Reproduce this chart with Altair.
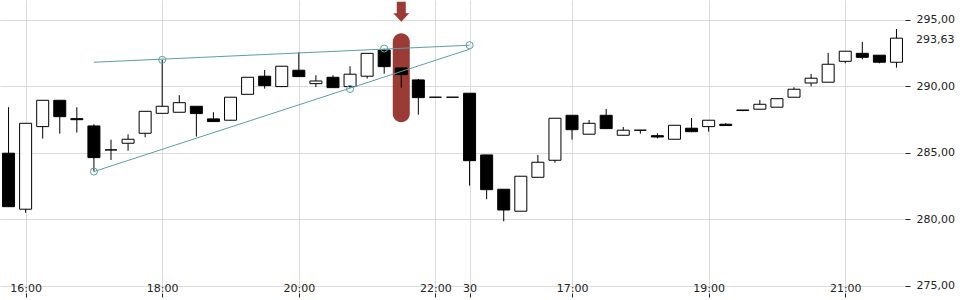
import altair as alt
import pandas as pd

# ---- candle data (15-min candles, index 0..52) ----
opens = [284.98, 280.77, 286.98, 288.96, 287.58, 287.03, 285.23, 285.73, 286.48, 287.98,
         288.06, 288.51, 287.56, 287.46, 289.41, 290.77, 289.99, 291.22, 290.21, 290.69,
         289.99, 290.77, 292.74, 291.39, 290.49, 289.19, 289.19, 289.49, 284.85, 282.27,
         280.62, 283.17, 284.45, 287.83, 286.41, 287.83, 286.33, 286.71, 286.30, 286.03,
         286.86, 286.98, 287.16, 288.19, 288.29, 288.44, 289.19, 290.26, 290.32, 291.89,
         292.49, 292.35, 291.82]
highs = [288.44, 287.23, 288.96, 288.96, 288.44, 287.16, 286.00, 286.40, 288.13, 292.00,
         289.34, 288.51, 288.06, 289.19, 290.69, 291.24, 291.52, 292.57, 290.84, 290.84,
         291.52, 292.49, 292.80, 291.39, 290.56, 289.19, 289.19, 289.49, 284.85, 282.27,
         283.25, 284.85, 287.61, 287.83, 287.48, 288.31, 286.95, 286.71, 286.48, 287.08,
         287.63, 287.46, 287.23, 288.23, 288.98, 289.08, 289.94, 290.94, 292.52, 292.65,
         293.35, 292.35, 294.32]
lows = [280.96, 280.50, 286.08, 286.45, 286.53, 283.60, 284.47, 285.17, 286.18, 287.98,
        288.06, 286.23, 287.36, 287.46, 289.41, 289.84, 289.95, 290.74, 289.96, 289.91,
        289.90, 290.59, 290.96, 289.91, 287.88, 289.19, 289.19, 282.54, 281.52, 279.86,
        280.62, 283.17, 284.27, 286.00, 286.41, 286.83, 286.33, 286.45, 286.10, 286.03,
        286.55, 286.60, 287.06, 288.14, 288.29, 288.44, 289.19, 290.01, 290.32, 291.74,
        292.04, 291.74, 291.41]
closes = [280.96, 287.23, 288.96, 287.73, 287.50, 284.65, 285.23, 286.03, 288.13, 288.51,
          288.78, 287.96, 287.36, 289.19, 290.69, 290.06, 291.52, 290.74, 290.41, 289.91,
          290.92, 292.49, 291.49, 290.89, 289.16, 289.19, 289.19, 284.42, 282.24, 280.71,
          283.25, 284.30, 287.61, 286.75, 287.23, 286.83, 286.71, 286.71, 286.20, 287.08,
          286.60, 287.46, 287.06, 288.23, 288.66, 289.08, 289.79, 290.62, 291.67, 292.65,
          292.19, 291.82, 293.63]

# ---- x axis labels ----
tick_idx = [1, 9, 17, 25, 27, 33, 41, 49]
tick_labels = ["16:00", "18:00", "20:00", "22:00", "30", "17:00", "19:00", "21:00"]
y_ticks = [275, 280, 285, 290, 295]

# ---- trend lines (wedge) ----
upper_idx = [5, 27]
upper_val = [291.82, 293.10]
lower_idx = [5, 27]
lower_val = [283.60, 292.80]
circle_idx = [5, 9, 20, 22, 27]
circle_val = [283.60, 292.00, 289.81, 292.85, 293.10]

# ---- highlight ----
hl_idx = [23]
hl_low = [287.31]
hl_high = [294.00]
arrow_val = [295.62]
last_price = 293.63

candles = pd.DataFrame({"idx": list(range(len(opens))), "open": opens, "high": highs,
                        "low": lows, "close": closes})
trend = pd.DataFrame({
    "idx": upper_idx + lower_idx,
    "val": upper_val + lower_val,
    "line": ["upper"] * len(upper_idx) + ["lower"] * len(lower_idx),
})
circles = pd.DataFrame({"idx": circle_idx, "val": circle_val})
hl = pd.DataFrame({"idx": hl_idx, "lo": hl_low, "hi": hl_high, "arrow": arrow_val})
lastdf = pd.DataFrame({"val": [last_price], "txt": [f"{last_price:.2f}".replace(".", ",")]})

RED = "#9a3b35"
TEAL = "#5a9fa4"

xs = alt.Scale(domain=[-0.5, 52.5], nice=False, zero=False, padding=0)
ys = alt.Scale(domain=[274.47, 296.50], nice=False, zero=False, padding=0)

label_expr = "[" + ",".join(f"'{t}'" for t in tick_labels) + "][indexof([" + \
    ",".join(str(i) for i in tick_idx) + "], datum.value)]"

xaxis = alt.Axis(values=tick_idx, labelExpr=label_expr, grid=True, domain=False,
                 tickSize=4, tickColor="#222", labelPadding=-6, labelBaseline="alphabetic",
                 labelOverlap=False, title=None)
yaxis = alt.Axis(values=y_ticks, orient="right", grid=True, domain=False, tickSize=5,
                 tickColor="#222", labelPadding=6, labelOverlap=False,
                 labelExpr="replace(format(datum.value, '.2f'), '.', ',')", title=None)


def X(field="idx"):
    return alt.X(f"{field}:Q", scale=xs, axis=xaxis, title=None)


def Y(field):
    return alt.Y(f"{field}:Q", scale=ys, axis=yaxis, title=None)


hl_bar = alt.Chart(hl).mark_bar(size=17, cornerRadius=8.5, color=RED).encode(
    x=X(), y=Y("lo"), y2="hi")

arrow_path = "M-0.45,-1 L0.45,-1 L0.45,0.16 L0.8,0.16 L0,1 L-0.8,0.16 L-0.45,0.16 Z"
arrow = alt.Chart(hl).mark_point(shape=arrow_path, size=400, filled=True, color=RED,
                                  opacity=1, strokeWidth=0).encode(x=X(), y=Y("arrow"))

wicks = alt.Chart(candles).mark_rule(color="black", strokeWidth=1).encode(
    x=X(), y=Y("low"), y2="high")

bodies = alt.Chart(candles).mark_bar(size=12, stroke="black", strokeWidth=1).encode(
    x=X(), y=Y("open"), y2="close",
    fill=alt.condition("datum.close < datum.open", alt.value("black"), alt.value("white")))

lines = alt.Chart(trend).mark_line(color=TEAL, strokeWidth=1).encode(
    x=X(), y=Y("val"), detail="line:N")

pts = alt.Chart(circles).mark_point(shape="circle", size=50, filled=False, color=TEAL,
                                    strokeWidth=1, opacity=1).encode(x=X(), y=Y("val"))

last_lbl = alt.Chart(lastdf).mark_text(align="left", baseline="middle", dy=1.5,
                                        font="DejaVu Sans", fontSize=11, color="#222",
                                        clip=False).encode(
    x=alt.value(916), y=Y("val"), text="txt:N")

chart = alt.layer(hl_bar, arrow, wicks, bodies, lines, pts, last_lbl).properties(
    width=905, height=293,
    autosize=alt.AutoSizeParams(type="none"),
    padding={"left": 0, "top": 0, "right": 55, "bottom": 7},
    background="white",
).configure_view(stroke=None).configure_axis(
    labelFont="DejaVu Sans", labelFontSize=11, labelColor="#222",
    gridColor="#dcdcdc", gridWidth=1,
)

chart.save("out.html", embed_options={"renderer": "svg", "actions": False})
